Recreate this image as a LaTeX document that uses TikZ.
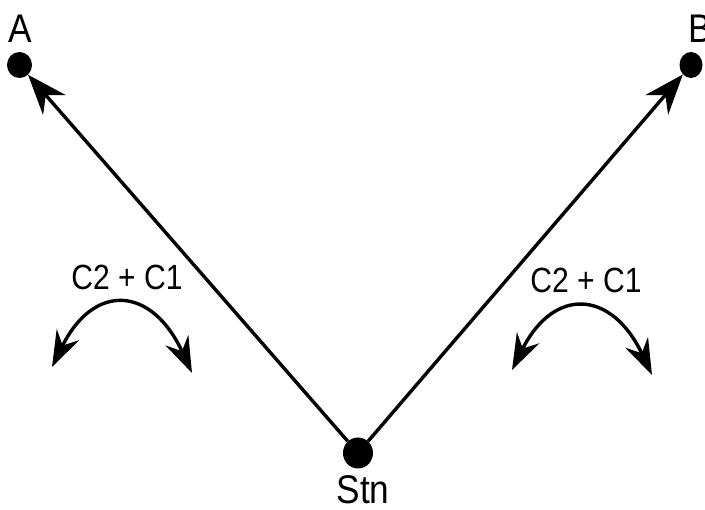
\documentclass[tikz,border=0pt]{standalone}
\usepackage{fontspec}
\setmainfont{Liberation Sans}
\newfontfamily\lblfont[FakeStretch=0.88]{Liberation Sans}
\newfontfamily\cfont[FakeStretch=0.86]{Liberation Sans}
\usetikzlibrary{arrows.meta,shapes.geometric}
\begin{document}
\begin{tikzpicture}[x=1pt,y=-1pt,
  dot/.style={ellipse,fill=black,inner sep=0pt},
  conn/.style={line width=3.4pt,-{Stealth[length=40pt,width=30pt,inset=13pt]}},
  swing/.style={line width=3.4pt,{Stealth[length=36pt,width=25pt,inset=12pt]}-{Stealth[length=36pt,width=25pt,inset=12pt]}},
  lbl/.style={font=\lblfont\fontsize{40}{44}\selectfont,inner sep=0pt,anchor=base},
  clbl/.style={font=\cfont\fontsize{35}{40}\selectfont,inner sep=0pt,anchor=base}]
\useasboundingbox (0,0) rectangle (705,510);
\node[dot,minimum width=25pt,minimum height=26pt] (a) at (19.5,65) {};
\node[dot,minimum width=23pt,minimum height=26pt] (b) at (691,65) {};
\node[dot,minimum width=30pt,minimum height=31pt] (stn) at (358,453) {};
\node[lbl] (la) at (20,43) {A};
\node[lbl] (lb) at (700,43) {B};
\node[lbl] (ls) at (363,504) {Stn};
\node[clbl] (c1) at (127,290) {C2 + C1};
\node[clbl] (c2) at (586,293) {C2 + C1};
\draw[conn] (stn) -- (a);
\draw[conn] (stn) -- (b);
\coordinate (l1) at (52,367);
\coordinate (l2) at (192,373);
\coordinate (r1) at (512,370);
\coordinate (r2) at (652,375);
\draw[swing] (l1) .. controls (94,282) and (152,286) .. (l2);
\draw[swing] (r1) .. controls (554,286) and (612,290) .. (r2);
\end{tikzpicture}
\end{document}
